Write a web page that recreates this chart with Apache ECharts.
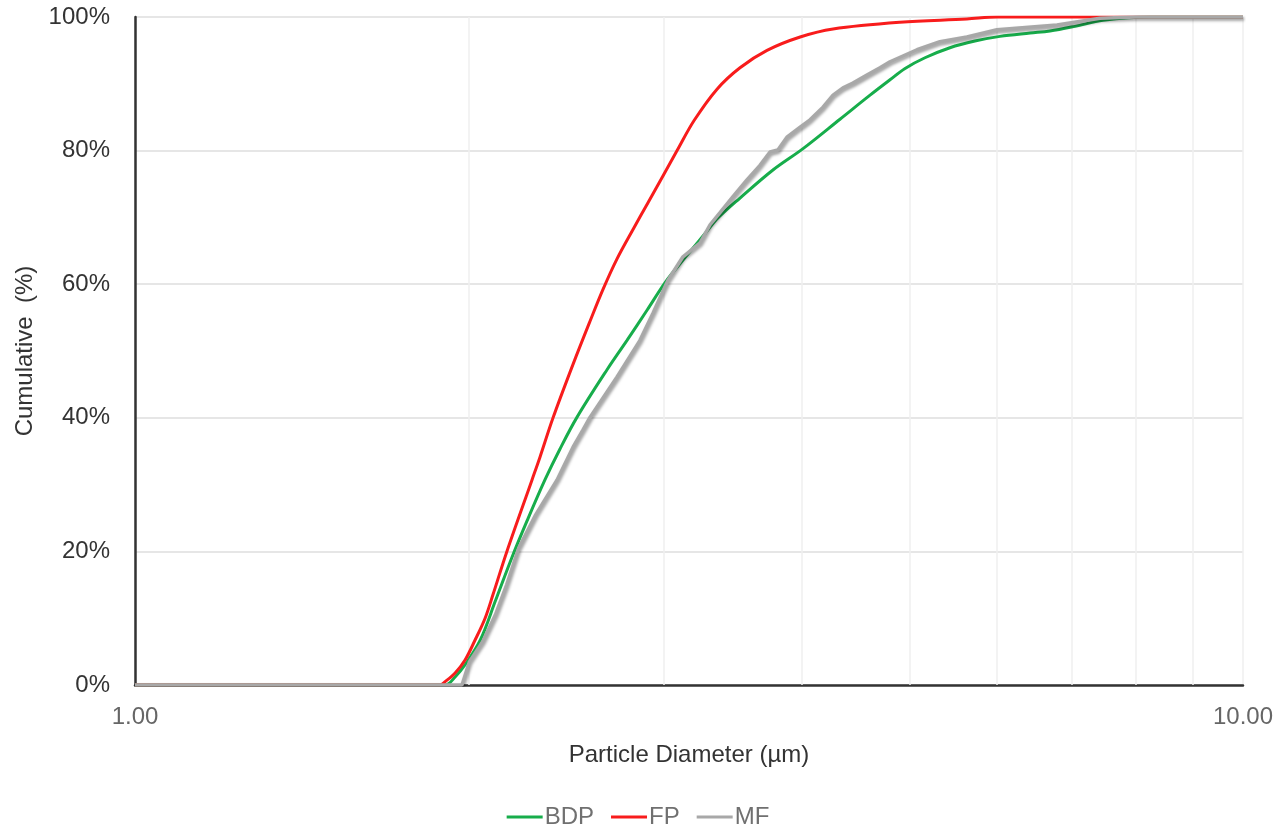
<!DOCTYPE html>
<html>
<head>
<meta charset="utf-8">
<title>Cumulative particle size distribution</title>
<script src="https://cdn.jsdelivr.net/npm/echarts@6/dist/echarts.min.js"></script>
<style>
  html, body { margin: 0; padding: 0; background: #ffffff; }
  #chart { width: 1276px; height: 829px; }
</style>
</head>
<body>
<div id="chart"></div>
<script>
// Particle diameters (µm) and cumulative percentages for each powder
const bdpDiameter = [1, 1.905, 1.945, 1.985, 2.049, 2.115, 2.19, 2.259, 2.344, 2.418, 2.506, 2.667, 2.78, 2.898, 3.008, 3.123, 3.27, 3.358, 3.516, 3.765, 4.008, 4.328, 4.607, 4.802, 4.955, 5.164, 5.439, 5.729, 6.035, 6.425, 6.696, 7.054, 7.476, 8.245, 10];
const bdpCumulative = [0, 0, 1.2, 3, 6.7, 12.6, 19.2, 24.6, 30.7, 35.3, 40.1, 47.2, 51.6, 56.1, 60.2, 63.6, 67.6, 69.9, 72.9, 77.1, 80.3, 84.7, 88.3, 90.6, 92.3, 93.9, 95.4, 96.4, 97.1, 97.6, 97.9, 98.6, 99.5, 100, 100];

const fpDiameter = [1, 1.885, 1.905, 1.945, 1.985, 2.027, 2.07, 2.104, 2.166, 2.282, 2.32, 2.384, 2.485, 2.575, 2.646, 2.723, 2.815, 2.904, 3.085, 3.196, 3.352, 3.516, 3.719, 3.984, 4.266, 4.902, 5.634, 6.0, 10];
const fpCumulative = [0, 0, 0.5, 1.8, 3.7, 6.7, 10, 13.5, 20, 30.7, 34.1, 40, 48, 54.5, 59.3, 63.8, 68.2, 72.2, 80, 84.5, 89.2, 92.4, 95, 97, 98.2, 99.2, 99.7, 100, 100];

const mfDiameter = [1, 1.973, 2.004, 2.06, 2.115, 2.165, 2.22, 2.3, 2.404, 2.485, 2.537, 2.575, 2.723, 2.856, 2.935, 3.027, 3.123, 3.236, 3.304, 3.373, 3.465, 3.567, 3.665, 3.742, 3.804, 3.876, 3.984, 4.067, 4.178, 4.266, 4.355, 4.446, 4.577, 4.703, 4.802, 5.079, 5.327, 5.634, 5.998, 6.794, 7.43, 8.0, 10];
const mfCumulative = [0, 0, 3.5, 6.5, 10.5, 15, 20.5, 25.5, 30.7, 35.6, 38.2, 40.1, 46.1, 51.6, 55.7, 60.6, 64.1, 66.2, 68.9, 70.7, 73.1, 75.6, 77.8, 79.8, 80.1, 82, 83.5, 84.6, 86.5, 88.3, 89.4, 90.1, 91.3, 92.4, 93.3, 95.1, 96.3, 97, 98.1, 98.8, 99.8, 100, 100];

// Minor log-scale grid positions between the decades
const minorGridDiameters = [2, 3, 4, 5, 6, 7, 8, 9];

const seriesNames = ['BDP', 'FP', 'MF'];
const seriesColors = ['#17ad4b', '#f81c1c', '#a8a8a8'];

function pairs(xs, ys) {
  return xs.map((x, i) => [x, ys[i]]);
}

const font = '"Liberation Sans", Arial, Helvetica, sans-serif';

const chart = echarts.init(document.getElementById('chart'), null, { renderer: 'canvas' });

chart.setOption({
  backgroundColor: '#ffffff',
  animation: false,
  grid: { left: 135, right: 33, top: 17, bottom: 144, containLabel: false },
  legend: {
    data: seriesNames,
    top: 800,
    left: 'center',
    itemWidth: 36,
    itemHeight: 14,
    itemGap: 17,
    icon: 'path://M0,6 L36,6 L36,9 L0,9 Z',
    textStyle: { fontFamily: font, fontSize: 24, color: '#707070', padding: [0, 0, 0, -3] }
  },
  xAxis: {
    type: 'log',
    logBase: 10,
    min: 1,
    max: 10,
    name: 'Particle Diameter (µm)',
    nameLocation: 'middle',
    nameGap: 58,
    nameTextStyle: { fontFamily: font, fontSize: 24, color: '#333333' },
    axisLine: { show: true, onZero: false, lineStyle: { color: '#333333', width: 2.5 } },
    axisTick: { show: false },
    axisLabel: {
      fontFamily: font, fontSize: 24, color: '#666666', margin: 20,
      formatter: v => Number(v).toFixed(2)
    },
    splitLine: { show: true, lineStyle: { color: '#efefef', width: 1.5 } }
  },
  yAxis: {
    type: 'value',
    min: 0,
    max: 100,
    interval: 20,
    name: 'Cumulative  (%)',
    nameLocation: 'middle',
    nameGap: 95,
    nameRotate: 90,
    nameTextStyle: { fontFamily: font, fontSize: 24, color: '#333333' },
    axisLine: { show: true, lineStyle: { color: '#333333', width: 2.5 } },
    axisTick: { show: false },
    axisLabel: { fontFamily: font, fontSize: 24, color: '#333333', margin: 25, formatter: '{value}%' },
    splitLine: { show: true, lineStyle: { color: '#e6e6e6', width: 2 } }
  },
  series: [
    {
      name: seriesNames[0],
      type: 'line',
      data: pairs(bdpDiameter, bdpCumulative),
      smooth: 0.35,
      symbol: 'none',
      color: seriesColors[0],
      lineStyle: { width: 3, color: seriesColors[0] },
      z: 3,
      markLine: {
        silent: true,
        z: 1,
        symbol: ['none', 'none'],
        label: { show: false },
        lineStyle: { color: '#efefef', width: 1.5, type: 'solid' },
        emphasis: { disabled: true },
        data: minorGridDiameters.map(d => ({ xAxis: d }))
      }
    },
    {
      name: seriesNames[1],
      type: 'line',
      data: pairs(fpDiameter, fpCumulative),
      smooth: 0.35,
      symbol: 'none',
      color: seriesColors[1],
      lineStyle: { width: 3, color: seriesColors[1] },
      z: 3
    },
    {
      name: seriesNames[2],
      type: 'line',
      data: pairs(mfDiameter, mfCumulative),
      smooth: false,
      symbol: 'none',
      color: seriesColors[2],
      lineStyle: {
        width: 3.5, color: seriesColors[2],
        shadowColor: 'rgba(0,0,0,0.4)', shadowBlur: 3, shadowOffsetX: 1, shadowOffsetY: 2
      },
      z: 4
    }
  ]
});
</script>
</body>
</html>
